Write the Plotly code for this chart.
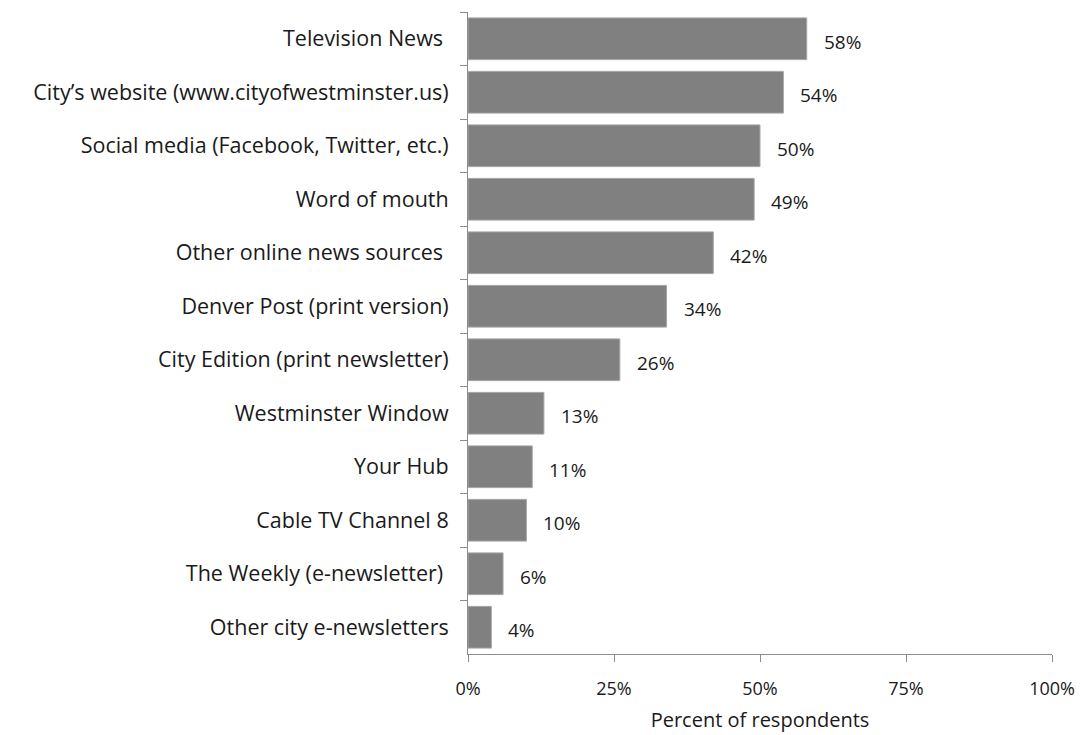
import plotly.graph_objects as go

categories = [
    "Television News ",
    "City\u2019s website (www.cityofwestminster.us)",
    "Social media (Facebook, Twitter, etc.)",
    "Word of mouth",
    "Other online news sources ",
    "Denver Post (print version)",
    "City Edition (print newsletter)",
    "Westminster Window",
    "Your Hub",
    "Cable TV Channel 8",
    "The Weekly (e-newsletter) ",
    "Other city e-newsletters",
]
percents = [58, 54, 50, 49, 42, 34, 26, 13, 11, 10, 6, 4]
x_ticks = [0, 25, 50, 75, 100]
x_tick_labels = ["0%", "25%", "50%", "75%", "100%"]

FONT = "Open Sans, sans-serif"
AXIS_GRAY = "#8c8c8c"
TEXT = "#1a1a1a"

fig = go.Figure(
    go.Bar(
        y=categories,
        x=percents,
        orientation="h",
        marker=dict(color="#808080", line=dict(color="#a6a6a6", width=1)),
        width=0.78,
        hoverinfo="skip",
    )
)

# value labels to the right of each bar
for cat, val in zip(categories, percents):
    fig.add_annotation(
        x=val, y=cat, text=f"{val}%", showarrow=False,
        xanchor="left", yanchor="middle", xshift=15, yshift=-3,
        font=dict(family=FONT, size=19, color=TEXT),
    )

fig.update_layout(
    width=1083, height=735,
    margin=dict(l=468, r=31, t=12, b=81),
    paper_bgcolor="white", plot_bgcolor="white",
    showlegend=False,
    font=dict(family=FONT, size=20, color=TEXT),
)
fig.update_yaxes(
    autorange="reversed", automargin=False,
    showline=True, linecolor=AXIS_GRAY, linewidth=1,
    ticks="outside", ticklen=7, tickcolor=AXIS_GRAY, tickson="boundaries",
    ticklabelstandoff=14,
    showgrid=False, zeroline=False,
    tickfont=dict(family=FONT, size=21.5, color=TEXT),
)
fig.update_xaxes(
    range=[0, 100], automargin=False,
    tickvals=x_ticks, ticktext=x_tick_labels,
    showline=True, linecolor=AXIS_GRAY, linewidth=1,
    ticks="outside", ticklen=7, tickcolor=AXIS_GRAY,
    ticklabelstandoff=11,
    showgrid=False, zeroline=False,
    tickfont=dict(family=FONT, size=18, color=TEXT),
    title=dict(text="Percent of respondents", standoff=14,
               font=dict(family=FONT, size=20, color=TEXT)),
)

fig.write_html("out.html")
